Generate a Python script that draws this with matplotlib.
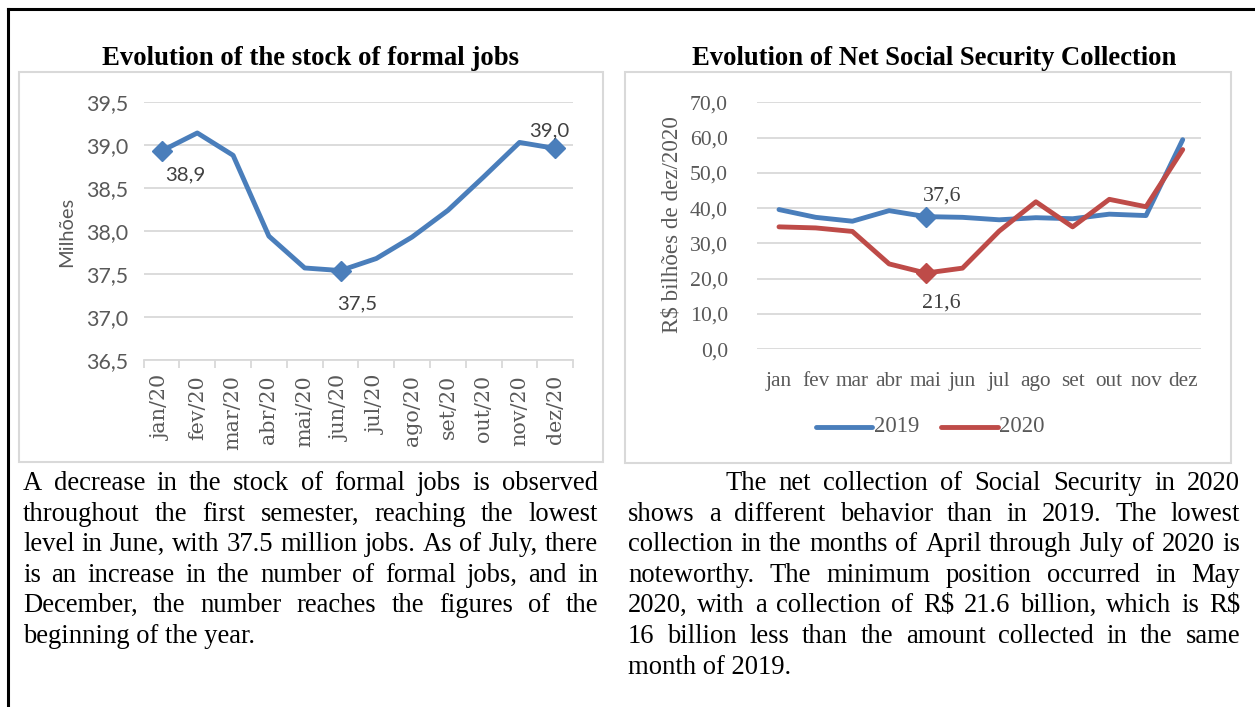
import matplotlib
matplotlib.use("Agg")
import matplotlib.pyplot as plt
from matplotlib.lines import Line2D
from matplotlib.patches import Rectangle
from matplotlib.ticker import FuncFormatter, FixedLocator

# ---------------- data ----------------
jobs_months = ["jan/20", "fev/20", "mar/20", "abr/20", "mai/20", "jun/20",
               "jul/20", "ago/20", "set/20", "out/20", "nov/20", "dez/20"]
jobs_values = [38.93, 39.14, 38.88, 37.94, 37.57, 37.54,
               37.68, 37.93, 38.24, 38.63, 39.03, 38.96]
jobs_labeled = [0, 5, 11]

ss_months = ["jan", "fev", "mar", "abr", "mai", "jun",
             "jul", "ago", "set", "out", "nov", "dez"]
ss_2019 = [39.6, 37.4, 36.3, 39.3, 37.6, 37.4, 36.7, 37.3, 37.0, 38.3, 37.9, 59.4]
ss_2020 = [34.7, 34.4, 33.4, 24.2, 21.6, 23.0, 33.5, 41.8, 34.7, 42.5, 40.4, 56.6]
ss_labeled = 4

title_left = "Evolution of the stock of formal jobs"
title_right = "Evolution of Net Social Security Collection"

para_left = [
    "A decrease in the stock of formal jobs is observed",
    "throughout the first semester, reaching the lowest",
    "level in June, with 37.5 million jobs. As of July, there",
    "is an increase in the number of formal jobs, and in",
    "December, the number reaches the figures of the",
    "beginning of the year.",
]
para_right = [
    "The net collection of Social Security in 2020",
    "shows a different behavior than in 2019. The lowest",
    "collection in the months of April through July of 2020 is",
    "noteworthy. The minimum position occurred in May",
    "2020, with a collection of R$ 21.6 billion, which is R$",
    "16 billion less than the amount collected in the same",
    "month of 2019.",
]

# ---------------- layout helpers ----------------
W, H = 1255, 707
fig = plt.figure(figsize=(W / 100, H / 100), dpi=100)
fig.patch.set_facecolor("white")
renderer = fig.canvas.get_renderer()


def fx(x):
    return x / W


def fy(y):
    return 1 - y / H


def text_width(s, size, **kw):
    t = fig.text(0, 0, s, fontsize=size, **kw)
    w = t.get_window_extent(renderer).width
    t.remove()
    return w


def fit(s, target, **kw):
    base = 20
    return base * target / text_width(s, base, **kw)


SERIF = "Liberation Serif"
CAMB = "DejaVu Serif"
SANS = "Lato"
BLUE = "#4a7ebb"
RED = "#be4b48"
GRID = "#d9d9d9"
TICK = "#595959"

# outer border (top and left)
fig.add_artist(Line2D([fx(8), fx(1255)], [fy(9), fy(9)], color="black", lw=2.2))
fig.add_artist(Line2D([fx(8), fx(8)], [fy(9), fy(707)], color="black", lw=2.2))

# chart panels
for (x0, y0, x1, y1) in [(19, 72, 603, 462), (625, 72, 1231, 463)]:
    fig.add_artist(Rectangle((fx(x0), fy(y1)), (x1 - x0) / W, (y1 - y0) / H,
                             transform=fig.transFigure, fill=False,
                             edgecolor=GRID, lw=1.5))

# titles
ts = fit(title_left, 415, family=SERIF, weight="bold")
fig.text(fx(310), fy(58.5), title_left, family=SERIF, weight="bold", fontsize=ts,
         ha="center", va="center")
ts2 = fit(title_right, 484, family=SERIF, weight="bold")
fig.text(fx(934), fy(58.5), title_right, family=SERIF, weight="bold", fontsize=ts2,
         ha="center", va="center")

comma = FuncFormatter(lambda v, p: f"{v:.1f}".replace(".", ","))

# ---------------- left chart ----------------
sp = 35.8
x_jan = 161.5
xl0 = x_jan - 0.5 * sp
ax1 = fig.add_axes([fx(xl0), fy(360), 12 * sp / W, (360 - 102) / H])
xs = list(range(len(jobs_values)))
ax1.plot(xs, jobs_values, color=BLUE, lw=3.5, solid_joinstyle="round",
         solid_capstyle="round")
ax1.plot([xs[i] for i in jobs_labeled], [jobs_values[i] for i in jobs_labeled],
         ls="none", marker="D", ms=10.5, color=BLUE)
ax1.set_xlim(-0.5, 11.5)
ax1.set_ylim(36.5, 39.5)
ax1.set_yticks([36.5, 37.0, 37.5, 38.0, 38.5, 39.0, 39.5])
ax1.yaxis.set_major_formatter(comma)
ax1.set_xticks(xs)
ax1.xaxis.set_minor_locator(FixedLocator([i - 0.5 for i in range(13)]))
ax1.grid(axis="y", color=GRID, lw=1.3)
ax1.set_axisbelow(True)
for s in ["left", "right", "top"]:
    ax1.spines[s].set_visible(False)
ax1.spines["bottom"].set_color(GRID)
ax1.spines["bottom"].set_linewidth(1.3)
ytick_size = fit("39,5", 42, family=SANS)
ax1.tick_params(axis="y", length=0, pad=15.6 * 0.72, labelsize=ytick_size,
                labelcolor=TICK, labelfontfamily=SANS)
xtick_size = fit("jan/20", 65, family=CAMB)
ax1.set_xticklabels(jobs_months, rotation=90, fontsize=xtick_size, color=TICK,
                    family=CAMB)
ax1.tick_params(axis="x", which="major", length=0, pad=15 * 0.72)
ax1.tick_params(axis="x", which="minor", length=6, color=GRID, width=1.3)
ax1.set_facecolor("none")

offs_left = {0: (23.5, -24), 5: (16.5, -33), 11: (-6, 18)}
lab_size = fit("38,9", 40, family=SANS)
for i in jobs_labeled:
    dx, dy = offs_left[i]
    ax1.annotate(f"{jobs_values[i]:.1f}".replace(".", ","), (xs[i], jobs_values[i]),
                 xytext=(dx, dy), textcoords="offset pixels", ha="center",
                 va="center", fontsize=lab_size, family=SANS, color="#404040")

ylab_size = fit("Milhões", 70, family=SANS)
fig.text(fx(66.5), fy(232), "Milhões", rotation=90, ha="center", va="center",
         fontsize=ylab_size, family=SANS, color=TICK)

# ---------------- right chart ----------------
RF = SERIF
sp2 = 36.7
x_jan2 = 779
xr0 = x_jan2 - 0.6 * sp2
ax2 = fig.add_axes([fx(xr0), fy(349.3), 12.1 * sp2 / W, (349.3 - 102.3) / H])
xs2 = list(range(len(ss_2019)))
ax2.plot(xs2, ss_2019, color=BLUE, lw=3.5, solid_joinstyle="round",
         solid_capstyle="round", zorder=3)
ax2.plot(xs2, ss_2020, color=RED, lw=3.5, solid_joinstyle="round",
         solid_capstyle="round", zorder=4)
ax2.plot([ss_labeled], [ss_2019[ss_labeled]], ls="none", marker="D", ms=10.5,
         color=BLUE, zorder=3)
ax2.plot([ss_labeled], [ss_2020[ss_labeled]], ls="none", marker="D", ms=10.5,
         color=RED, zorder=4)
ax2.set_xlim(-0.6, 11.5)
ax2.set_ylim(0, 70)
ax2.set_yticks(range(0, 71, 10))
ax2.yaxis.set_major_formatter(comma)
ax2.set_xticks(xs2)
ax2.grid(axis="y", color=GRID, lw=1.3)
ax2.set_axisbelow(True)
for s in ["left", "right", "top", "bottom"]:
    ax2.spines[s].set_visible(False)
ytick2 = fit("70,0", 38, family=RF)
ax2.tick_params(axis="y", length=0, pad=29 * 0.72, labelsize=ytick2,
                labelcolor=TICK, labelfontfamily=RF)
xtick2 = fit("jan", 26, family=RF)
ax2.set_xticklabels(ss_months, fontsize=xtick2, color=TICK, family=RF)
ax2.tick_params(axis="x", length=0, pad=16)
ax2.set_facecolor("none")

lab2 = fit("37,6", 38.5, family=RF)
ax2.annotate(f"{ss_2019[ss_labeled]:.1f}".replace(".", ","),
             (ss_labeled, ss_2019[ss_labeled]), xytext=(16, 21),
             textcoords="offset pixels", ha="center", va="center",
             fontsize=lab2, family=RF, color="#404040")
ax2.annotate(f"{ss_2020[ss_labeled]:.1f}".replace(".", ","),
             (ss_labeled, ss_2020[ss_labeled]), xytext=(16, -30),
             textcoords="offset pixels", ha="center", va="center",
             fontsize=lab2, family=RF, color="#404040")

ylab2 = fit("R$ bilhões de dez/2020", 216, family=RF)
fig.text(fx(672), fy(225), "R$ bilhões de dez/2020", rotation=90, ha="center",
         va="center", fontsize=ylab2, family=RF, color=TICK)

# legend
leg_size = fit("2019", 45, family=RF)
fig.add_artist(Line2D([fx(816), fx(872)], [fy(427), fy(427)], color=BLUE, lw=3.5,
                      solid_capstyle="round"))
fig.text(fx(874), fy(427), "2019", ha="left", va="center", fontsize=leg_size,
         family=RF, color=TICK)
fig.add_artist(Line2D([fx(941), fx(998)], [fy(427), fy(427)], color=RED, lw=3.5,
                      solid_capstyle="round"))
fig.text(fx(999), fy(427), "2020", ha="left", va="center", fontsize=leg_size,
         family=RF, color=TICK)

# ---------------- paragraphs (justified) ----------------
psize = fit("beginning of the year.", 233, family=SERIF)


def justified(lines, x0, x1, base0, step, indent=0.0):
    for k, line in enumerate(lines):
        words = line.split(" ")
        y = base0 + k * step
        start = x0 + (indent if k == 0 else 0)
        if k == len(lines) - 1 or len(words) == 1:
            fig.text(fx(start), fy(y), line, fontsize=psize, family=SERIF,
                     ha="left", va="baseline")
            continue
        widths = [text_width(w, psize, family=SERIF) for w in words]
        gap = (x1 - start - sum(widths)) / (len(words) - 1)
        cx = start
        for w, wd in zip(words, widths):
            fig.text(fx(cx), fy(y), w, fontsize=psize, family=SERIF,
                     ha="left", va="baseline")
            cx += wd + gap


justified(para_left, 23, 598, 490, 30.6)
justified(para_right, 628, 1240, 490, 30.6, indent=97)

fig.savefig("out.png", dpi=100)
